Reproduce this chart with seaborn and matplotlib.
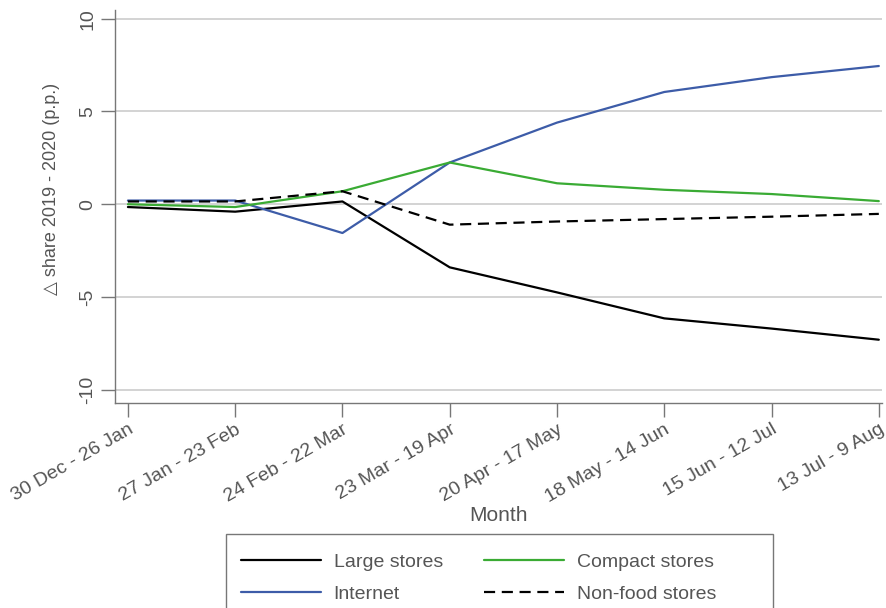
import numpy as np
import pandas as pd
import seaborn as sns
from matplotlib import pyplot as plt
from matplotlib.patches import Rectangle

# periods on the x axis
periods = ['30 Dec - 26 Jan', '27 Jan - 23 Feb', '24 Feb - 22 Mar', '23 Mar - 19 Apr',
           '20 Apr - 17 May', '18 May - 14 Jun', '15 Jun - 12 Jul', '13 Jul - 9 Aug']

# change in share 2019 - 2020 (p.p.)
large_stores = [-0.15, -0.4, 0.15, -3.4, -4.75, -6.15, -6.7, -7.3]
internet = [0.2, 0.2, -1.55, 2.25, 4.4, 6.05, 6.85, 7.45]
compact_stores = [0.0, -0.15, 0.7, 2.25, 1.13, 0.78, 0.55, 0.17]
nonfood_stores = [0.15, 0.15, 0.7, -1.1, -0.93, -0.8, -0.67, -0.52]

yticks = [-10, -5, 0, 5, 10]

sns.set_style('white')
plt.rcParams['font.family'] = ['Liberation Sans', 'DejaVu Sans']

fig = plt.figure(figsize=(8.87, 6.08), dpi=100)
ax = fig.add_axes([0.1297, 0.3372, 0.8647, 0.6464])

x = np.arange(len(periods))
df = pd.DataFrame({'x': x, 'Large stores': large_stores, 'Internet': internet,
                   'Compact stores': compact_stores, 'Non-food stores': nonfood_stores})

styles = {
    'Large stores': dict(color='black', linestyle='-'),
    'Internet': dict(color='#3d5ca8', linestyle='-'),
    'Compact stores': dict(color='#3aab34', linestyle='-'),
    'Non-food stores': dict(color='black', linestyle=(0, (5, 3))),
}
handles = []
for name, st in styles.items():
    sns.lineplot(data=df, x='x', y=name, ax=ax, linewidth=1.6, label=name, **st)
    handles.append(ax.lines[-1])
ax.get_legend().remove()

grey = '#555555'
ax.set_xlim(-0.12, 7.03)
ax.set_ylim(-10.71, 10.47)
ax.set_yticks(yticks)
ax.set_yticklabels([str(v) for v in yticks], rotation=90, va='center')
ax.set_xticks(x)
ax.set_xticklabels(periods, rotation=30, ha='right', rotation_mode='anchor')
ax.tick_params(axis='both', direction='out', length=10, width=1, color='#777777',
               labelcolor=grey, labelsize=14, left=True, bottom=True)
ax.tick_params(axis='x', pad=3)
ax.yaxis.grid(True, color='#cccccc', linewidth=1.2)
ax.xaxis.grid(False)

for side in ['top', 'right']:
    ax.spines[side].set_visible(False)
for side in ['left', 'bottom']:
    ax.spines[side].set_color('#777777')
    ax.spines[side].set_linewidth(1)

ax.set_xlabel('Month', fontsize=15, color=grey, labelpad=0)
ax.set_ylabel('\u25b3 share 2019 - 2020 (p.p.)', fontsize=13, color=grey)
ax.yaxis.set_label_coords(-0.072, 0.545)

# legend box (runs off the bottom edge, as in the original)
fig.patches.append(Rectangle((0.2548, -0.05), 0.6167, 0.1717, transform=fig.transFigure,
                             fill=False, edgecolor='#777777', linewidth=1))
fig.legend(handles=handles, labels=list(styles.keys()), ncol=2, loc='upper left',
           bbox_to_anchor=(0.2717, 0.0905), borderaxespad=0, borderpad=0, frameon=False,
           fontsize=14, handlelength=4.1, handletextpad=0.67,
           columnspacing=2.1, labelspacing=0.75, labelcolor=grey)

plt.savefig('out.png', dpi=100)
